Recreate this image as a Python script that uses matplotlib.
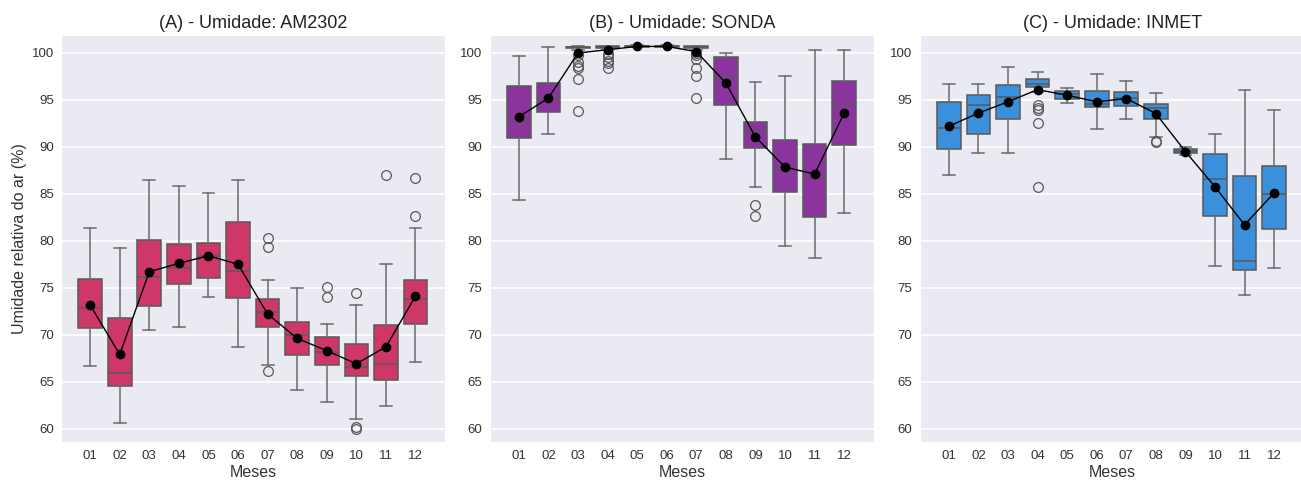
import matplotlib
matplotlib.use("Agg")
import matplotlib.pyplot as plt

plt.rcParams['font.family'] = ['Liberation Sans', 'DejaVu Sans']

meses = ['01', '02', '03', '04', '05', '06', '07', '08', '09', '10', '11', '12']

# (A) AM2302 - box stats
a_low = [66.7, 60.6, 70.5, 70.8, 74.0, 68.7, 66.8, 64.15, 62.8, 61.0, 62.4, 67.1]
a_q1 = [70.7, 64.5, 73.1, 75.35, 76.0, 73.9, 70.8, 67.8, 66.8, 65.6, 65.2, 71.1]
a_med = [72.85, 65.9, 76.1, 77.1, 78.4, 76.8, 72.4, 70.0, 68.2, 66.6, 66.85, 73.8]
a_q3 = [75.95, 71.8, 80.05, 79.7, 79.8, 82.0, 73.75, 71.4, 69.7, 69.0, 71.0, 75.8]
a_high = [81.4, 79.2, 86.5, 85.85, 85.1, 86.5, 75.85, 75.0, 71.1, 73.2, 77.55, 81.4]
a_mean = [73.15, 67.9, 76.7, 77.6, 78.4, 77.5, 72.2, 69.6, 68.3, 66.9, 68.7, 74.1]
a_fliers = [[], [], [], [], [], [], [80.3, 79.3, 66.1], [], [75.1, 74.0],
            [74.4, 60.2, 59.95], [87.0], [86.7, 82.6]]

# (B) SONDA
b_low = [84.3, 91.4, 100.3, 100.4, 100.6, 100.6, 100.3, 88.75, 85.7, 79.4, 78.15, 83.0]
b_q1 = [90.9, 93.7, 100.5, 100.55, 100.65, 100.65, 100.5, 94.5, 89.9, 85.2, 82.5, 90.2]
b_med = [92.6, 95.2, 100.6, 100.65, 100.7, 100.7, 100.6, 97.45, 91.85, 87.5, 86.85, 94.6]
b_q3 = [96.5, 96.8, 100.65, 100.7, 100.75, 100.75, 100.7, 99.6, 92.7, 90.7, 90.35, 97.05]
b_high = [99.7, 100.6, 100.7, 100.75, 100.8, 100.8, 100.75, 100.05, 96.9, 97.6, 100.3, 100.3]
b_mean = [93.2, 95.2, 100.0, 100.35, 100.7, 100.7, 100.15, 96.8, 91.05, 87.85, 87.1, 93.6]
b_fliers = [[], [], [99.75, 99.05, 98.6, 98.4, 97.2, 93.8], [99.9, 99.6, 99.2, 98.9, 98.45],
            [], [], [100.0, 99.75, 99.4, 98.4, 97.5, 95.25], [], [83.8, 82.65], [], [], []]

# (C) INMET
c_low = [87.0, 89.4, 89.4, 95.8, 94.7, 91.9, 93.0, 91.0, 89.1, 77.35, 74.2, 77.05]
c_q1 = [89.75, 91.35, 93.0, 96.35, 95.1, 94.2, 94.4, 93.0, 89.35, 82.65, 76.9, 81.25]
c_med = [92.0, 94.5, 95.35, 96.7, 95.6, 94.6, 95.2, 94.1, 89.6, 86.55, 77.8, 85.0]
c_q3 = [94.75, 95.5, 96.55, 97.2, 95.9, 95.95, 95.8, 94.55, 89.8, 89.2, 86.9, 88.0]
c_high = [96.7, 96.7, 98.55, 98.0, 96.3, 97.8, 97.0, 95.7, 89.95, 91.35, 96.1, 93.95]
c_mean = [92.2, 93.6, 94.8, 96.1, 95.5, 94.8, 95.15, 93.55, 89.5, 85.75, 81.7, 85.1]
c_fliers = [[], [], [], [94.5, 94.15, 93.9, 92.5, 85.7], [], [], [], [90.6, 90.5],
            [], [], [], []]

paineis = [
    ('(A) - Umidade: AM2302', '#CF3768', a_low, a_q1, a_med, a_q3, a_high, a_mean, a_fliers),
    ('(B) - Umidade: SONDA', '#8C349E', b_low, b_q1, b_med, b_q3, b_high, b_mean, b_fliers),
    ('(C) - Umidade: INMET', '#3A90DB', c_low, c_q1, c_med, c_q3, c_high, c_mean, c_fliers),
]

fig = plt.figure(figsize=(13.01, 4.8), dpi=100)
lefts = [0.0477, 0.3772, 0.7077]
texto = '#333333'

for i, (titulo, cor, lo, q1, med, q3, hi, media, fl) in enumerate(paineis):
    ax = fig.add_axes([lefts[i], 0.0798, 0.2944, 0.845])
    ax.set_facecolor('#EAEAF2')
    stats = []
    for k in range(len(meses)):
        stats.append({'whislo': lo[k], 'q1': q1[k], 'med': med[k], 'q3': q3[k],
                      'whishi': hi[k], 'fliers': fl[k], 'mean': media[k]})
    pos = list(range(len(meses)))
    ax.bxp(stats, positions=pos, widths=0.8, patch_artist=True, showmeans=False,
           boxprops=dict(facecolor=cor, edgecolor='#595959', linewidth=1.1),
           medianprops=dict(color='#595959', linewidth=1.1),
           whiskerprops=dict(color='#6b6b6b', linewidth=1.1),
           capprops=dict(color='#6b6b6b', linewidth=1.1),
           flierprops=dict(marker='o', markerfacecolor='none', markeredgecolor='#595959',
                           markersize=7, markeredgewidth=0.9),
           zorder=2)
    ax.plot(pos, media, color='black', linewidth=1, marker='o', markersize=6, zorder=5)

    ax.set_xlim(-0.95, 12.0)
    ax.set_ylim(58.6, 101.8)
    ax.set_yticks(range(60, 101, 5))
    ax.set_xticks(pos)
    ax.set_xticklabels(meses)
    ax.grid(axis='y', color='white', linewidth=1.2)
    ax.set_axisbelow(True)
    for s in ax.spines.values():
        s.set_visible(False)
    ax.tick_params(axis='both', length=0, labelsize=9.5, colors=texto, pad=6)
    ax.set_title(titulo, fontsize=13, color='#222222', pad=6)
    ax.set_xlabel('Meses', fontsize=11.5, color=texto, labelpad=2)
    if i == 0:
        ax.set_ylabel('Umidade relativa do ar (%)', fontsize=11.5, color=texto, labelpad=3)

plt.savefig('out.png', dpi=100)
